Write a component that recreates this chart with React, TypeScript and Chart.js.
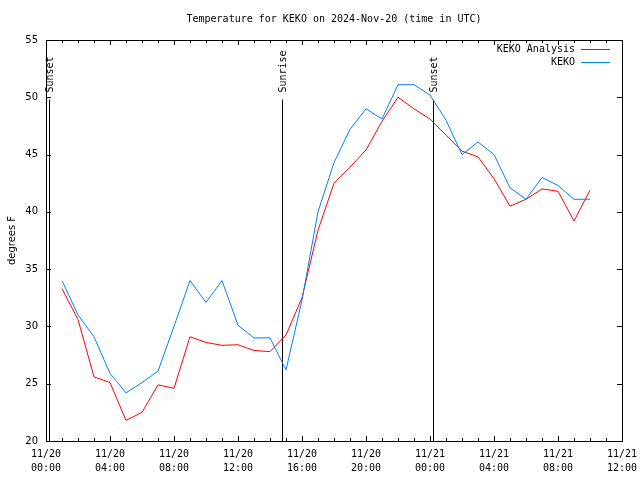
import React, { useEffect, useRef } from "react";
import { Chart, registerables } from "chart.js";

Chart.register(...registerables);

const titleText = "Temperature for KEKO on 2024-Nov-20 (time in UTC)";
const yTitle = "degrees F";

// hours since 11/20 00:00 UTC
const hours = [
  1, 2, 3, 4, 5, 6, 7, 8, 9, 10, 11, 12, 13, 14, 15, 16, 17,
  18, 19, 20, 21, 22, 23, 24, 25, 26, 27, 28, 29, 30, 31, 32, 33, 34,
];

const analysisTemps = [
  33.3, 30.6, 25.6, 25.1, 21.8, 22.5, 24.9, 24.6, 29.1, 28.6, 28.35, 28.4, 27.9, 27.8, 29.25, 32.5, 38.4,
  42.5, 43.9, 45.4, 47.9, 50.0, 49.0, 48.1, 46.7, 45.3, 44.8, 42.9, 40.5, 41.1, 42.0, 41.8, 39.2, 41.9,
];

const obsTemps = [
  34.0, 31.0, 29.1, 25.9, 24.2, 25.1, 26.1, 30.0, 34.0, 32.1, 34.0, 30.1, 29.0, 29.0, 26.2, 32.3, 40.0,
  44.3, 47.2, 49.0, 48.1, 51.1, 51.1, 50.2, 48.0, 45.0, 46.1, 45.0, 42.1, 41.1, 43.0, 42.3, 41.1, 41.1,
];

const seriesNames = ["KEKO Analysis", "KEKO"];
const seriesColors = ["#ff0000", "#0080ff"];

const xTickHours = [0, 4, 8, 12, 16, 20, 24, 28, 32, 36];
const xTickLabels = [
  ["11/20", "00:00"],
  ["11/20", "04:00"],
  ["11/20", "08:00"],
  ["11/20", "12:00"],
  ["11/20", "16:00"],
  ["11/20", "20:00"],
  ["11/21", "00:00"],
  ["11/21", "04:00"],
  ["11/21", "08:00"],
  ["11/21", "12:00"],
];
const yTicks = [20, 25, 30, 35, 40, 45, 50, 55];

const eventHours = [0.2, 14.72, 24.19];
const eventLabels = ["Sunset", "Sunrise", "Sunset"];
const eventTopValue = 49.8;

const MONO = '"DejaVu Sans Mono", monospace';
const SANS = '"DejaVu Sans", sans-serif';

const gnuplotPlugin = {
  id: "gnuplotDecor",
  beforeDatasetsDraw(chart: any) {
    const { ctx, chartArea, scales } = chart;
    const xs = scales.x;
    const ys = scales.y;
    ctx.save();
    ctx.strokeStyle = "#000";
    ctx.lineWidth = 1;
    ctx.fillStyle = "#000";
    ctx.font = `10px ${MONO}`;
    const yTop = ys.getPixelForValue(eventTopValue);
    eventHours.forEach((h, i) => {
      const x = Math.round(xs.getPixelForValue(h)) + 0.5;
      ctx.beginPath();
      ctx.moveTo(x, yTop);
      ctx.lineTo(x, chartArea.bottom);
      ctx.stroke();
      ctx.save();
      ctx.translate(x + 1, yTop - 7);
      ctx.rotate(-Math.PI / 2);
      ctx.textAlign = "left";
      ctx.textBaseline = "middle";
      ctx.fillText(eventLabels[i], 0, 0);
      ctx.restore();
    });
    ctx.restore();
  },
  afterDraw(chart: any) {
    const { ctx, chartArea, scales } = chart;
    const xs = scales.x;
    const ys = scales.y;
    const { left, right, top, bottom } = chartArea;
    ctx.save();
    ctx.strokeStyle = "#000";
    ctx.lineWidth = 1;
    // frame
    ctx.strokeRect(Math.round(left) + 0.5, Math.round(top) + 0.5, Math.round(right - left), Math.round(bottom - top));
    // x ticks (inward, mirrored)
    for (let h = 0; h <= 36; h++) {
      const x = Math.round(xs.getPixelForValue(h)) + 0.5;
      const len = h % 4 === 0 ? 5 : 3;
      ctx.beginPath();
      ctx.moveTo(x, bottom);
      ctx.lineTo(x, bottom - len);
      ctx.moveTo(x, top);
      ctx.lineTo(x, top + len);
      ctx.stroke();
    }
    // y ticks
    yTicks.forEach((v) => {
      const y = Math.round(ys.getPixelForValue(v)) + 0.5;
      ctx.beginPath();
      ctx.moveTo(left, y);
      ctx.lineTo(left + 5, y);
      ctx.moveTo(right, y);
      ctx.lineTo(right - 5, y);
      ctx.stroke();
    });
    // title
    ctx.fillStyle = "#000";
    ctx.font = `10px ${MONO}`;
    ctx.textAlign = "center";
    ctx.textBaseline = "middle";
    ctx.fillText(titleText, (left + right) / 2, 19);
    // legend
    ctx.textAlign = "right";
    seriesNames.forEach((name, i) => {
      const y = top + 9 + i * 13;
      ctx.fillStyle = "#000";
      ctx.fillText(name, right - 47, y);
      ctx.strokeStyle = seriesColors[i];
      ctx.beginPath();
      ctx.moveTo(right - 41, Math.round(y) + 0.5);
      ctx.lineTo(right - 12, Math.round(y) + 0.5);
      ctx.stroke();
    });
    ctx.restore();
  },
};

export default function App() {
  const canvasRef = useRef<HTMLCanvasElement | null>(null);

  useEffect(() => {
    if (!canvasRef.current) return;
    const chart = new Chart(canvasRef.current, {
      type: "line",
      data: {
        datasets: [
          {
            label: seriesNames[0],
            data: hours.map((h, i) => ({ x: h, y: analysisTemps[i] })),
            borderColor: seriesColors[0],
            backgroundColor: seriesColors[0],
            borderWidth: 1,
            pointRadius: 0,
            tension: 0,
            order: 2,
          },
          {
            label: seriesNames[1],
            data: hours.map((h, i) => ({ x: h, y: obsTemps[i] })),
            borderColor: seriesColors[1],
            backgroundColor: seriesColors[1],
            borderWidth: 1,
            pointRadius: 0,
            tension: 0,
            order: 1,
          },
        ],
      },
      options: {
        animation: false,
        responsive: true,
        maintainAspectRatio: false,
        layout: { padding: { top: 40, right: 18, left: 0, bottom: 0 } },
        plugins: {
          legend: { display: false },
          title: { display: false },
          tooltip: { enabled: false },
        },
        scales: {
          x: {
            type: "linear",
            min: 0,
            max: 36,
            afterBuildTicks: (scale: any) => {
              scale.ticks = xTickHours.map((v) => ({ value: v }));
            },
            afterFit: (scale: any) => {
              scale.height = 39;
              scale.paddingLeft = 0;
              scale.paddingRight = 0;
            },
            grid: { display: false, drawTicks: false },
            border: { display: false },
            ticks: {
              autoSkip: false,
              maxRotation: 0,
              minRotation: 0,
              padding: 6,
              color: "#000",
              font: { family: MONO, size: 10, lineHeight: 1.4 },
              callback: (value: any) => {
                const idx = xTickHours.indexOf(Number(value));
                return idx >= 0 ? xTickLabels[idx] : "";
              },
            },
          },
          y: {
            type: "linear",
            min: 20,
            max: 55,
            afterBuildTicks: (scale: any) => {
              scale.ticks = yTicks.map((v) => ({ value: v }));
            },
            afterFit: (scale: any) => {
              scale.width = 46;
              scale.paddingTop = 0;
              scale.paddingBottom = 0;
            },
            grid: { display: false, drawTicks: false },
            border: { display: false },
            title: {
              display: true,
              text: yTitle,
              color: "#000",
              font: { family: SANS, size: 10 },
              padding: { top: 6, bottom: 0 },
            },
            ticks: {
              padding: 8,
              color: "#000",
              font: { family: SANS, size: 10 },
            },
          },
        },
      },
      plugins: [gnuplotPlugin],
    } as any);
    return () => chart.destroy();
  }, []);

  return (
    <div style={{ position: "fixed", left: 0, top: 0, width: 640, height: 480, background: "#fff" }}>
      <canvas ref={canvasRef} />
    </div>
  );
}
